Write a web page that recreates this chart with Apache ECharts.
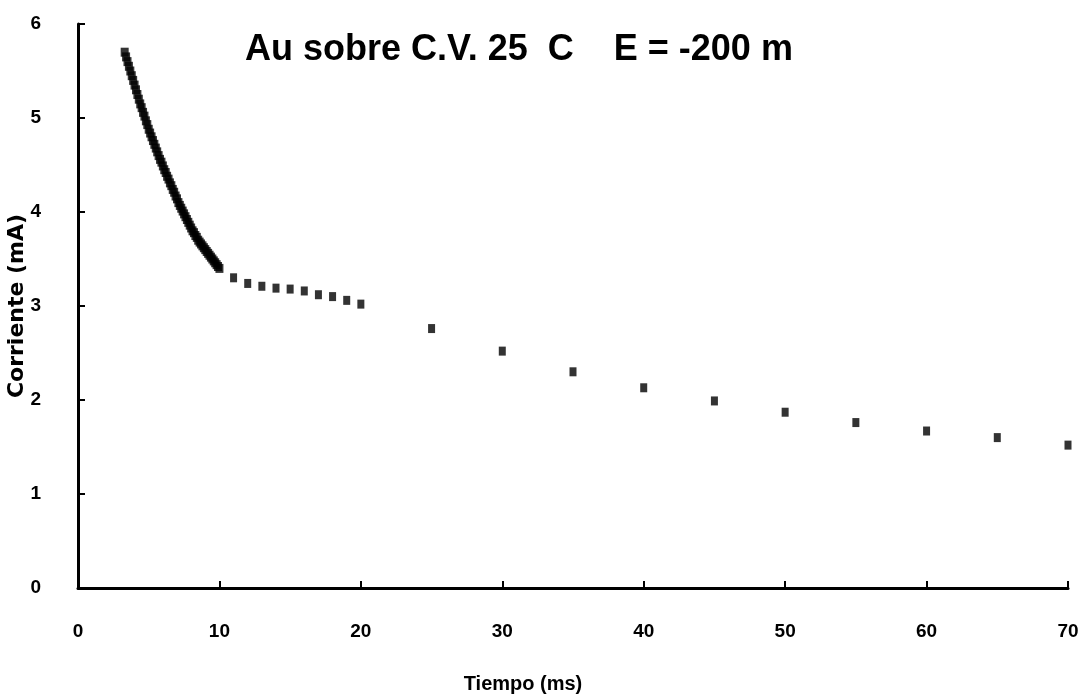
<!DOCTYPE html>
<html>
<head>
<meta charset="utf-8">
<script src="https://cdn.jsdelivr.net/npm/echarts@6/dist/echarts.min.js"></script>
<style>
  html, body { margin: 0; padding: 0; background: #fff; }
  #chart { width: 1083px; height: 696px; }
</style>
</head>
<body>
<div id="chart"></div>
<script>
// dense early part of the transient (ms, mA)
var tCurve = [3.3, 3.4, 3.5, 3.6, 3.7, 3.8, 3.9, 4.0, 4.1, 4.2, 4.3, 4.4, 4.5, 4.6, 4.7, 4.8, 4.9,
    5.0, 5.1, 5.2, 5.3, 5.4, 5.5, 5.6, 5.7, 5.8, 5.9, 6.0, 6.1, 6.2, 6.3, 6.4, 6.5, 6.6, 6.7, 6.8, 6.9,
    7.0, 7.1, 7.2, 7.3, 7.4, 7.5, 7.6, 7.7, 7.8, 7.9, 8.0, 8.1, 8.2, 8.3, 8.4, 8.5, 8.6, 8.7, 8.8, 8.9,
    9.0, 9.1, 9.2, 9.3, 9.4, 9.5, 9.6, 9.7, 9.8, 9.9, 10.0];
var iCurve = [5.70, 5.65, 5.60, 5.55, 5.50, 5.45, 5.40, 5.35, 5.30, 5.25, 5.20, 5.15, 5.11, 5.06, 5.02, 4.97, 4.93,
    4.88, 4.84, 4.80, 4.76, 4.72, 4.68, 4.64, 4.60, 4.56, 4.53, 4.49, 4.45, 4.42, 4.38, 4.35, 4.31, 4.28, 4.24, 4.21, 4.17,
    4.14, 4.10, 4.07, 4.04, 4.01, 3.98, 3.95, 3.92, 3.89, 3.86, 3.83, 3.80, 3.78, 3.75, 3.73, 3.70, 3.68, 3.66, 3.64, 3.62,
    3.60, 3.58, 3.56, 3.54, 3.52, 3.50, 3.48, 3.46, 3.44, 3.42, 3.40];

// sparse later points
var tTail = [11, 12, 13, 14, 15, 16, 17, 18, 19, 20, 25, 30, 35, 40, 45, 50, 55, 60, 65, 70];
var iTail = [3.30, 3.24, 3.21, 3.19, 3.18, 3.16, 3.12, 3.10, 3.06, 3.02,
    2.76, 2.52, 2.30, 2.13, 1.99, 1.87, 1.76, 1.67, 1.60, 1.52];

var titleText = 'Au sobre C.V. 25  C    E = -200 m';

function pairs(xs, ys) {
    var out = [];
    for (let i = 0; i < xs.length; i++) {
        out.push([xs[i], ys[i]]);
    }
    return out;
}

var font = '"Liberation Sans", Arial, sans-serif';

var opts = {
    backgroundColor: '#fff',
    animation: false,
    title: {
        text: titleText,
        left: 240,
        top: 27,
        textStyle: { fontFamily: font, fontSize: 36, fontWeight: 'bold', color: '#000' }
    },
    grid: { left: 78, right: 15, top: 24, bottom: 108, outerBoundsMode: 'none' },
    xAxis: {
        type: 'value',
        min: 0,
        max: 70,
        interval: 10,
        name: 'Tiempo (ms)',
        nameLocation: 'middle',
        nameGap: 86,
        nameMoveOverlap: false,
        nameTextStyle: { fontFamily: font, fontSize: 20, fontWeight: 'bold', color: '#000', padding: [0, 100, 0, 0] },
        axisLine: { lineStyle: { color: '#000', width: 3 } },
        axisTick: { inside: true, length: 7, lineStyle: { color: '#000', width: 2 } },
        axisLabel: { margin: 34, fontFamily: font, fontSize: 19, fontWeight: 'bold', color: '#000' },
        splitLine: { show: false }
    },
    yAxis: {
        type: 'value',
        min: 0,
        max: 6,
        interval: 1,
        name: 'Corriente (mA)',
        nameLocation: 'middle',
        nameGap: 50,
        nameMoveOverlap: false,
        nameTextStyle: { fontFamily: '"DejaVu Sans", sans-serif', fontSize: 22, fontWeight: 'bold', color: '#000' },
        axisLine: { lineStyle: { color: '#000', width: 3 } },
        axisTick: { inside: true, length: 7, lineStyle: { color: '#000', width: 2 } },
        axisLabel: { margin: 37, fontFamily: font, fontSize: 19, fontWeight: 'bold', color: '#000' },
        splitLine: { show: false }
    },
    series: [
        {
            type: 'scatter',
            symbol: 'rect',
            symbolSize: [8, 9],
            itemStyle: { color: '#000' },
            data: pairs(tCurve, iCurve)
        },
        {
            type: 'scatter',
            symbol: 'rect',
            symbolSize: [7, 9],
            itemStyle: { color: '#000' },
            data: pairs(tTail, iTail)
        }
    ]
};

echarts.init(document.getElementById('chart')).setOption(opts);
</script>
</body>
</html>
